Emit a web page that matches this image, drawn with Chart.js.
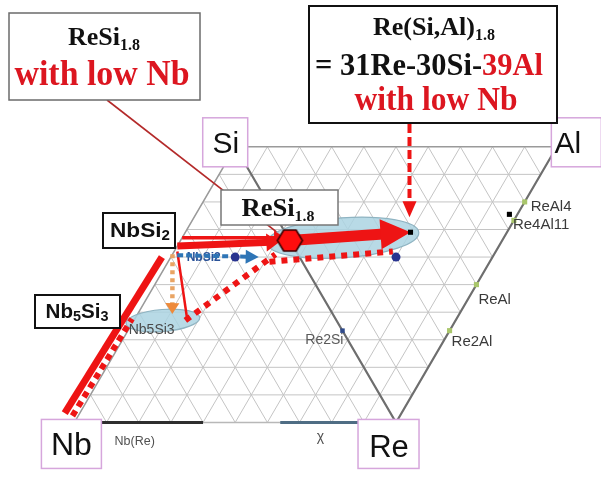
<!DOCTYPE html>
<html lang="en">
<head>
<meta charset="utf-8">
<title>Nb-Si-Re-Al section</title>
<script src="https://cdn.jsdelivr.net/npm/chart.js@4.4.1/dist/chart.umd.min.js"></script>
<style>
  html, body { margin: 0; padding: 0; background: #ffffff; }
  #wrap { position: relative; width: 601px; height: 481px; }
</style>
</head>
<body>
<div id="wrap"><canvas id="ternaryChart"></canvas></div>
<script>
// compositions are at.% written as [Re, Si, Al]; Nb is the balance
const gridSteps = 10;

const cornerNames = ["Nb", "Re", "Si", "Al"];
const cornerComps = [[0, 0, 0], [100, 0, 0], [0, 100, 0], [0, 0, 100]];

const reAlPhases = ["ReAl4", "Re4Al11", "ReAl", "Re2Al"];
const reAlComps = [[20, 0, 80], [26.7, 0, 73.3], [50, 0, 50], [66.7, 0, 33.3]];

const reSiPhases = ["Re2Si"];
const reSiComps = [[66.7, 33.3, 0]];

const nbSiPhases = ["NbSi2", "Nb5Si3"];
const nbSiComps = [[0, 66.7, 0], [0, 37.5, 0]];

const measuredComps = [[31, 30, 39], [24.5, 2.5, 73]];   // black squares
const alloyComps = [[20, 60, 0], [40, 30, 30]];          // blue dots
const reSi18Comp = [34, 66, 0];                          // red hexagon
const targetComp = [31, 30, 39];                         // Re(Si,Al)1.8

const nbSolidRange = [0, 40];   // Re at.% along Nb-Re
const chiRange = [64, 89];

const reSi18Field = [33, 50, 17];
const nb5Si3Field = [9, 37, 0];

// annotation paths
const nbEdgeSolid = [[-4.7, 3.4, 0], [-2.8, 60, 0]];
const nbEdgeDotted = [[-1.8, 2.4, 0], [-0.9, 37.6, 0]];
const nbSi2Down = [[0, 61, 0], [10.8, 39.3, 0]];
const nbSi2Thin = [[1, 62, 0], [16, 38, 0]];
const nb5Si3Rise = [[16, 37, 0], [32, 61, 0]];
const lowerTie = [[31.5, 58.3, 0], [38, 32, 30]];
const nbSi2Blue = [[1.6, 60.7, 0], [27.3, 60, 0]];
const nbSi2ToReSi = [[0, 64, 0], [31, 65.5, 0]];
const nbSi2ToReSiUpper = [[0, 67, 0], [32, 67, 0]];
const reSiToTarget = [reSi18Comp, targetComp];

const H = 5 * Math.sqrt(3);
function pos(c) {
  const re = c[0] / 100, si = c[1] / 100, al = c[2] / 100;
  return { x: 10 * (re + al) + 5 * (si + al), y: H * (si + al) };
}

function gridData() {
  const out = [];
  const seg = (a, b) => out.push(pos(a), pos(b), { x: NaN, y: NaN });
  for (let k = 1; k < gridSteps; k++) {
    const f = 100 * k / gridSteps;
    seg([0, f, 0], [100 - f, 0, f]);
    seg([f, 0, 0], [0, 100 - f, f]);
    seg([f, 0, 0], [0, f, 0]);
    seg([100 - f, 0, f], [0, 100 - f, f]);
  }
  return out;
}

function lineSet(label, comps, color, width, extra) {
  return Object.assign({
    label: label,
    data: comps.map(pos),
    showLine: true,
    borderColor: color,
    backgroundColor: color,
    borderWidth: width,
    borderCapStyle: "butt",
    pointRadius: 0,
    pointHoverRadius: 0,
    fill: false
  }, extra || {});
}

function pointSet(label, comps, color, radius, style, extra) {
  return Object.assign({
    label: label,
    data: comps.map(pos),
    showLine: false,
    pointStyle: style,
    pointRadius: radius,
    pointHoverRadius: radius,
    pointBackgroundColor: color,
    pointBorderColor: color,
    pointBorderWidth: 0
  }, extra || {});
}

const hexagon = (function () {
  const w = 25, h = 21;
  const c = document.createElement("canvas");
  c.width = w + 4; c.height = h + 4;
  const g = c.getContext("2d");
  const cx = c.width / 2, cy = c.height / 2;
  g.beginPath();
  g.moveTo(cx - w / 2, cy);
  g.lineTo(cx - w / 4, cy - h / 2);
  g.lineTo(cx + w / 4, cy - h / 2);
  g.lineTo(cx + w / 2, cy);
  g.lineTo(cx + w / 4, cy + h / 2);
  g.lineTo(cx - w / 4, cy + h / 2);
  g.closePath();
  g.fillStyle = "#ff0d0d";
  g.fill();
  g.lineWidth = 1.6;
  g.strokeStyle = "#3a0000";
  g.stroke();
  return c;
})();

const RED = "#ee1414";
const TXT_RED = "#dc1620";
const SANS = '"Liberation Sans", Arial, sans-serif';
const SERIF = '"Liberation Serif", "Times New Roman", serif';

// back to front
const layers = [
  lineSet("grid", [], "#c4c4c4", 1, { data: gridData() }),
  lineSet("outline", [cornerComps[0], cornerComps[2], cornerComps[3]], "#9a9a9a", 1.5),
  lineSet("bottom", [cornerComps[0], cornerComps[1]], "#b8b8b8", 1.5),
  lineSet("dark edges", [cornerComps[2], cornerComps[1], cornerComps[3]], "#6e6e6e", 2.2, { role: "edges" }),
  lineSet("Nb(Re)", nbSolidRange.map(r => [r, 0, 0]), "#2e2e2e", 3, { tag: "Nb(Re)" }),
  lineSet("chi", chiRange.map(r => [r, 0, 0]), "#4f6d84", 3, { tag: "\u03c7" }),
  pointSet("Re-Al", reAlComps, "#a9c66b", 3.6, "rect", { names: reAlPhases }),
  pointSet("Re-Si", reSiComps, "#2f4a8a", 3.2, "rect", { names: reSiPhases }),
  pointSet("Nb-Si", nbSiComps, "#2f4a8a", 0, "rect", { names: nbSiPhases }),
  lineSet("Nb edge", nbEdgeSolid, RED, 7),
  lineSet("Nb edge dotted", nbEdgeDotted, RED, 6, { borderDash: [6, 5] }),
  lineSet("Nb5Si3 rise", nb5Si3Rise, RED, 6, { borderDash: [6, 6] }),
  lineSet("lower tie", lowerTie, RED, 6, { borderDash: [6, 6] }),
  lineSet("NbSi2 thin", nbSi2Thin, RED, 2.5),
  lineSet("NbSi2 down", nbSi2Down, "#e9a463", 4.5, { borderDash: [4, 4], head: { len: 11, half: 7, color: "#ee8a3a" } }),
  lineSet("NbSi2 blue", nbSi2Blue, "#2e75b6", 4, { borderDash: [6, 3], head: { len: 13, half: 7, color: "#2e75b6" } }),
  pointSet("alloys", alloyComps, "#28338f", 4.5, "circle"),
  lineSet("to ReSi upper", nbSi2ToReSiUpper, RED, 3.5, { head: { len: 11, half: 7, color: RED } }),
  lineSet("to ReSi", nbSi2ToReSi, RED, 7, { head: { len: 13, half: 9, color: RED } }),
  lineSet("to target", reSiToTarget, RED, 11, { head: { len: 30, half: 15, color: RED } }),
  pointSet("measured", measuredComps, "#000000", 3.6, "rect"),
  pointSet("ReSi1.8", [reSi18Comp], "#ff0d0d", 12, hexagon)
];
layers.forEach((d, i) => { d.order = layers.length - i; });

const labelStyle = {
  "ReAl4": { dx: 6, dy: 9, align: "left", font: "15px " + SANS, color: "#3a3a3a" },
  "Re4Al11": { dx: -1, dy: 9, align: "left", font: "15px " + SANS, color: "#3a3a3a" },
  "ReAl": { dx: 2, dy: 19, align: "left", font: "15px " + SANS, color: "#3a3a3a" },
  "Re2Al": { dx: 2, dy: 15, align: "left", font: "15px " + SANS, color: "#3a3a3a" },
  "Re2Si": { dx: 1, dy: 13, align: "right", font: "14px " + SANS, color: "#5a5a5a" },
  "NbSi2": { dx: 5, dy: 22, align: "left", font: "bold 12px " + SANS, color: "#2a5298" },
  "Nb5Si3": { dx: -6, dy: 15, align: "left", font: "14px " + SANS, color: "#4a4a4a" }
};

const cornerBox = {
  Si: { box: [-32.5, -29, 12.5, 20], tx: -9.5, ty: 6, size: 30 },
  Al: { box: [-5.5, -29, 44.5, 20], tx: 11, ty: 6, size: 30 },
  Nb: { box: [-33, -3, 27, 46], tx: -3, ty: 33, size: 32 },
  Re: { box: [-38, -3, 23, 46], tx: -7, ty: 35, size: 31 }
};

function toPx(chart, c) {
  const p = pos(c);
  return { x: chart.scales.x.getPixelForValue(p.x), y: chart.scales.y.getPixelForValue(p.y) };
}

function arrowHead(ctx, tip, from, len, half, color) {
  const dx = tip.x - from.x, dy = tip.y - from.y, d = Math.hypot(dx, dy);
  const ux = dx / d, uy = dy / d;
  const bx = tip.x - ux * len, by = tip.y - uy * len;
  ctx.beginPath();
  ctx.moveTo(tip.x, tip.y);
  ctx.lineTo(bx - uy * half, by + ux * half);
  ctx.lineTo(bx + uy * half, by - ux * half);
  ctx.closePath();
  ctx.fillStyle = color;
  ctx.fill();
}

function drawEllipse(ctx, c, rx, ry, rot) {
  ctx.save();
  ctx.beginPath();
  ctx.ellipse(c.x, c.y, rx, ry, rot, 0, Math.PI * 2);
  ctx.fillStyle = "rgba(172, 212, 226, 0.85)";
  ctx.fill();
  ctx.lineWidth = 1.2;
  ctx.strokeStyle = "#8fb4c2";
  ctx.stroke();
  ctx.restore();
}

function frame(ctx, x0, y0, x1, y1, stroke, lw) {
  ctx.fillStyle = "#ffffff";
  ctx.fillRect(x0, y0, x1 - x0, y1 - y0);
  ctx.lineWidth = lw;
  ctx.strokeStyle = stroke;
  ctx.strokeRect(x0, y0, x1 - x0, y1 - y0);
}

// draws runs of text centred on cx, squeezed or stretched to the given width
function richText(ctx, parts, cx, baseline, width) {
  let total = 0;
  parts.forEach(p => { ctx.font = p.font; p.w = ctx.measureText(p.t).width; total += p.w; });
  const k = width ? width / total : 1;
  ctx.save();
  ctx.translate(cx - total * k / 2, baseline);
  ctx.scale(k, 1);
  ctx.textAlign = "left";
  ctx.textBaseline = "alphabetic";
  let x = 0;
  parts.forEach(p => {
    ctx.font = p.font;
    ctx.fillStyle = p.color || "#111111";
    ctx.fillText(p.t, x, p.dy || 0);
    x += p.w;
  });
  ctx.restore();
}

const diagramPlugin = {
  id: "diagram",
  beforeDatasetDraw(chart, args) {
    const ds = chart.data.datasets[args.index];
    if (!ds.head) return;
    // keep the shaft from poking through the arrow tip
    const pts = args.meta.data;
    const t = pts[pts.length - 1], s = pts[pts.length - 2];
    const d = Math.hypot(t.x - s.x, t.y - s.y);
    const ux = (t.x - s.x) / d, uy = (t.y - s.y) / d;
    const bx = t.x - ux * (ds.head.len - 1), by = t.y - uy * (ds.head.len - 1);
    const R = 3000, ctx = chart.ctx;
    ctx.save();
    ctx.beginPath();
    ctx.moveTo(bx - uy * R, by + ux * R);
    ctx.lineTo(bx + uy * R, by - ux * R);
    ctx.lineTo(bx + uy * R - ux * R, by - ux * R - uy * R);
    ctx.lineTo(bx - uy * R - ux * R, by + ux * R - uy * R);
    ctx.closePath();
    ctx.clip();
  },
  afterDatasetDraw(chart, args) {
    const ds = chart.data.datasets[args.index];
    const ctx = chart.ctx;
    const pts = args.meta.data;
    if (ds.head) {
      ctx.restore();
      arrowHead(ctx, pts[pts.length - 1], pts[pts.length - 2], ds.head.len, ds.head.half, ds.head.color);
    }
    if (ds.role === "edges") {
      // callout from the upper-left note, then the two phase fields
      const hx = toPx(chart, reSi18Comp);
      ctx.save();
      ctx.beginPath();
      ctx.moveTo(107, 100);
      ctx.lineTo(hx.x - 6, hx.y - 3);
      ctx.lineWidth = 1.6;
      ctx.strokeStyle = "#b42a2a";
      ctx.stroke();
      ctx.restore();
      drawEllipse(ctx, toPx(chart, reSi18Field), 76, 20, -0.07);
      drawEllipse(ctx, toPx(chart, nb5Si3Field), 37, 11, -0.08);
    }
    if (ds.tag) {
      const a = pts[0], b = pts[pts.length - 1];
      ctx.save();
      ctx.font = (ds.tag === "Nb(Re)" ? "12.5px " : "14px ") + SANS;
      ctx.fillStyle = "#505050";
      ctx.textAlign = "center";
      ctx.fillText(ds.tag, ds.tag === "Nb(Re)" ? (a.x + b.x) / 2 - 4 : (a.x + b.x) / 2, a.y + (ds.tag === "Nb(Re)" ? 23 : 19));
      ctx.restore();
    }
    if (ds.names) {
      ctx.save();
      ds.names.forEach((n, i) => {
        const st = labelStyle[n];
        ctx.font = st.font;
        ctx.fillStyle = st.color;
        ctx.textAlign = st.align;
        ctx.textBaseline = "alphabetic";
        ctx.fillText(n, pts[i].x + st.dx, pts[i].y + st.dy);
      });
      ctx.restore();
    }
  },
  afterDatasetsDraw(chart) {
    const ctx = chart.ctx;
    ctx.save();

    // arrow from the Re(Si,Al)1.8 note down to the measured point
    const T = toPx(chart, targetComp);
    const tip = { x: T.x - 1, y: T.y - 15 };
    ctx.beginPath();
    ctx.setLineDash([9, 4]);
    ctx.moveTo(tip.x, 124);
    ctx.lineTo(tip.x, tip.y - 13);
    ctx.lineWidth = 4;
    ctx.strokeStyle = RED;
    ctx.stroke();
    ctx.setLineDash([]);
    arrowHead(ctx, tip, { x: tip.x, y: 124 }, 16, 7, RED);

    // corner labels
    cornerNames.forEach((n, i) => {
      const v = toPx(chart, cornerComps[i]);
      const cb = cornerBox[n];
      ctx.fillStyle = "#ffffff";
      ctx.fillRect(v.x + cb.box[0], v.y + cb.box[1], cb.box[2] - cb.box[0], cb.box[3] - cb.box[1]);
      ctx.lineWidth = 1.5;
      ctx.strokeStyle = "#d6a6dc";
      ctx.strokeRect(v.x + cb.box[0], v.y + cb.box[1], cb.box[2] - cb.box[0], cb.box[3] - cb.box[1]);
      ctx.font = cb.size + "px " + SANS;
      ctx.fillStyle = "#111111";
      ctx.textAlign = "center";
      ctx.textBaseline = "alphabetic";
      ctx.fillText(n, v.x + cb.tx, v.y + cb.ty);
    });

    // notes
    frame(ctx, 9, 13, 200, 100, "#6b6b6b", 1.5);
    richText(ctx, [{ t: "ReSi", font: "bold 26px " + SERIF }, { t: "1.8", font: "bold 16px " + SERIF, dy: 5 }], 104, 45, 72);
    richText(ctx, [{ t: "with low Nb", font: "bold 35px " + SERIF, color: TXT_RED }], 102, 85, 175);

    frame(ctx, 309, 6, 557, 123, "#111111", 2);
    richText(ctx, [{ t: "Re(Si,Al)", font: "bold 26px " + SERIF }, { t: "1.8", font: "bold 16px " + SERIF, dy: 5 }], 434, 35, 122);
    richText(ctx, [{ t: "= 31Re-30Si-", font: "bold 31px " + SERIF }, { t: "39Al", font: "bold 31px " + SERIF, color: TXT_RED }], 429, 75, 228);
    richText(ctx, [{ t: "with low Nb", font: "bold 34px " + SERIF, color: TXT_RED }], 436, 110, 163);

    frame(ctx, 221, 190, 338, 225, "#777777", 1.5);
    richText(ctx, [{ t: "ReSi", font: "bold 25px " + SERIF }, { t: "1.8", font: "bold 15px " + SERIF, dy: 5 }], 278, 216, 73);

    frame(ctx, 103, 213, 175, 248, "#111111", 2);
    richText(ctx, [{ t: "NbSi", font: "bold 21px " + SANS }, { t: "2", font: "bold 14px " + SANS, dy: 3 }], 140, 237, 60);

    frame(ctx, 35, 295, 120, 328, "#111111", 2);
    richText(ctx, [
      { t: "Nb", font: "bold 20px " + SANS }, { t: "5", font: "bold 14px " + SANS, dy: 3 },
      { t: "Si", font: "bold 20px " + SANS }, { t: "3", font: "bold 14px " + SANS, dy: 3 }
    ], 77, 318, 63);

    ctx.restore();
  }
};

const ctx = document.getElementById("ternaryChart").getContext("2d");
const ternaryChart = new Chart(ctx, {
  type: "scatter",
  data: { datasets: layers },
  options: {
    responsive: true,
    maintainAspectRatio: false,
    animation: false,
    events: [],
    layout: { padding: 0 },
    plugins: { legend: { display: false }, tooltip: { enabled: false } },
    scales: {
      x: { type: "linear", display: false, min: -65 / 33.5, max: -65 / 33.5 + 601 / 33.5 },
      y: { type: "linear", display: false, min: 432 / 33.5 - 481 / 33.5, max: 432 / 33.5 }
    }
  },
  plugins: [diagramPlugin]
});
</script>
</body>
</html>
